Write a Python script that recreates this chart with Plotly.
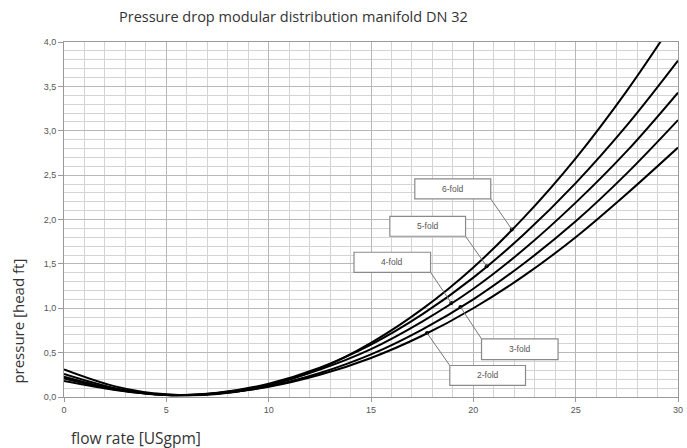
import numpy as np
import plotly.graph_objects as go

# flow rate [USgpm]
flow = [0, 2.5, 5, 7.5, 10, 12.5, 15, 17.5, 20, 22.5, 25, 27.5, 30]

# pressure [head ft]
p_2fold = [0.18, 0.08, 0.025, 0.04, 0.115, 0.25, 0.44, 0.69, 1.00, 1.37, 1.80, 2.29, 2.81]
p_3fold = [0.21, 0.085, 0.022, 0.04, 0.12, 0.27, 0.48, 0.76, 1.10, 1.51, 1.98, 2.52, 3.12]
p_4fold = [0.23, 0.09, 0.022, 0.045, 0.14, 0.31, 0.54, 0.85, 1.22, 1.67, 2.19, 2.77, 3.43]
p_5fold = [0.26, 0.10, 0.022, 0.047, 0.15, 0.33, 0.59, 0.93, 1.345, 1.84, 2.41, 3.06, 3.79]
p_6fold = [0.31, 0.12, 0.03, 0.033, 0.13, 0.32, 0.61, 0.99, 1.46, 2.03, 2.69, 3.45, 4.30]

series_names = ["2-fold", "3-fold", "4-fold", "5-fold", "6-fold"]
series_vals = [p_2fold, p_3fold, p_4fold, p_5fold, p_6fold]

# label boxes (data coords) and pointer targets
label_box_x0 = [18.85, 20.40, 14.17, 15.92, 17.14]
label_box_x1 = [22.55, 24.14, 17.91, 19.62, 20.85]
label_box_y0 = [0.130, 0.422, 1.405, 1.811, 2.232]
label_box_y1 = [0.355, 0.655, 1.631, 2.036, 2.458]
# which corner the pointer leaves from: "tl" top-left, "br" bottom-right
label_corner = ["tl", "tl", "br", "br", "br"]
pointer_x = [17.74, 19.37, 18.92, 20.65, 21.88]

fig = go.Figure()

for name, vals in zip(series_names, series_vals):
    fig.add_trace(go.Scatter(
        x=flow, y=vals, mode="lines", name=name,
        line=dict(color="black", width=2, shape="spline", smoothing=1.0),
        showlegend=False, hoverinfo="skip", cliponaxis=True,
    ))

dot_x, dot_y = [], []
shapes = []
annotations = []
for i, name in enumerate(series_names):
    px = pointer_x[i]
    py = float(np.interp(px, flow, series_vals[i]))
    dot_x.append(px)
    dot_y.append(py)
    if label_corner[i] == "tl":
        cx, cy = label_box_x0[i], label_box_y1[i]
    else:
        cx, cy = label_box_x1[i], label_box_y0[i]
    shapes.append(dict(type="line", xref="x", yref="y", x0=cx, y0=cy, x1=px, y1=py,
                       line=dict(color="#777777", width=1), layer="above"))
    shapes.append(dict(type="rect", xref="x", yref="y",
                       x0=label_box_x0[i], x1=label_box_x1[i],
                       y0=label_box_y0[i], y1=label_box_y1[i],
                       line=dict(color="#8a8a8a", width=1.2), fillcolor="white", layer="above"))
    annotations.append(dict(
        x=(label_box_x0[i] + label_box_x1[i]) / 2, y=(label_box_y0[i] + label_box_y1[i]) / 2,
        xref="x", yref="y", text=name, showarrow=False,
        font=dict(family="Liberation Sans, Arial", size=8.5, color="#555555"),
    ))

fig.add_trace(go.Scatter(x=dot_x, y=dot_y, mode="markers",
                         marker=dict(color="black", size=4), showlegend=False, hoverinfo="skip"))

PW, PH = 614.0, 355.5  # plot area size in px
annotations += [
    dict(text="Pressure drop modular distribution manifold DN 32", xref="paper", yref="paper",
         x=(117 - 64) / PW, y=1 + (42 - 16) / PH, xanchor="left", yanchor="middle", showarrow=False,
         font=dict(family="Open Sans", size=14.5, color="#333333")),
    dict(text="pressure [head ft]", xref="paper", yref="paper",
         x=(18 - 64) / PW, y=(397.5 - 322) / PH, xanchor="center", yanchor="middle",
         textangle=-90, showarrow=False,
         font=dict(family="Open Sans", size=15, color="#333333")),
    dict(text="flow rate [USgpm]", xref="paper", yref="paper",
         x=(69 - 64) / PW, y=-(438.5 - 397.5) / PH, xanchor="left", yanchor="middle", showarrow=False,
         font=dict(family="Open Sans", size=15.5, color="#333333")),
]

fig.update_layout(
    width=687, height=448,
    margin=dict(l=64, r=9, t=42, b=50.5, autoexpand=False),
    paper_bgcolor="white", plot_bgcolor="white",
    separators=",.",
    shapes=shapes, annotations=annotations,
    xaxis=dict(range=[0, 30], dtick=5, tick0=0, showgrid=True, gridcolor="#b8b8b8", gridwidth=1,
               minor=dict(dtick=1, showgrid=True, gridcolor="#d3d3d3", gridwidth=1),
               showline=True, linecolor="#999999", linewidth=1, mirror=True,
               ticks="outside", ticklen=4, tickcolor="#999999",
               zeroline=False, automargin=False,
               tickfont=dict(family="Liberation Sans, Arial", size=9, color="#555555")),
    yaxis=dict(range=[0, 4], dtick=0.5, tick0=0, tickformat=".1f", showgrid=True, gridcolor="#b8b8b8",
               gridwidth=1,
               minor=dict(dtick=0.1, showgrid=True, gridcolor="#d3d3d3", gridwidth=1),
               showline=True, linecolor="#999999", linewidth=1, mirror=True,
               ticks="outside", ticklen=5, tickcolor="#999999",
               zeroline=False, automargin=False,
               tickfont=dict(family="Liberation Sans, Arial", size=9, color="#555555")),
)

# remove the browser's default 8px page margin so the 687x448 figure fills the window exactly
fig.write_html("out.html", config={"displayModeBar": False},
               post_script="document.body.style.margin='0';document.body.style.overflow='hidden';")
